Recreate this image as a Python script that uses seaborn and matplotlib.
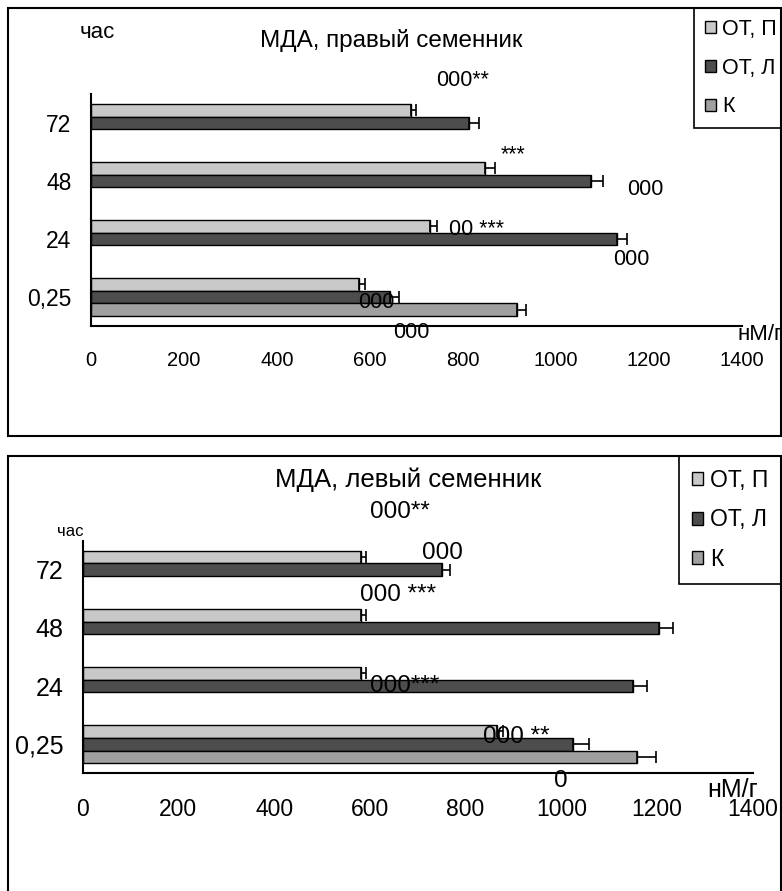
import numpy as np
import pandas as pd
import matplotlib
matplotlib.use("Agg")
import matplotlib.pyplot as plt
from matplotlib.container import BarContainer
from matplotlib.patches import Rectangle
import seaborn as sns

# ---------------------------------------------------------------------------
# data: MDA, nM/g, by hours after exposure
# ---------------------------------------------------------------------------
hours = ["72", "48", "24", "0,25"]
groups = ["ОТ, П", "ОТ, Л", "К"]

# right testis
right_ot_p = [688, 848, 730, 576]
right_ot_p_err = [11, 21, 14, 14]
right_ot_l = [813, 1075, 1132, 644]
right_ot_l_err = [21, 25, 21, 19]
right_k = [np.nan, np.nan, np.nan, 917]
right_k_err = [0, 0, 0, 19]

# left testis
left_ot_p = [581, 581, 581, 866]
left_ot_p_err = [12, 12, 12, 12]
left_ot_l = [750, 1205, 1150, 1025]
left_ot_l_err = [17, 28, 30, 33]
left_k = [np.nan, np.nan, np.nan, 1159]
left_k_err = [0, 0, 0, 38]

# significance marks: (text, x in nM/g, y in category units)
right_marks = [("000**", 798, -0.74), ("***", 907, 0.55), ("000", 1191, 1.15),
               ("00 ***", 828, 1.83), ("000", 1161, 2.36), ("000", 613, 3.10),
               ("000", 688, 3.62)]
left_marks = [("000**", 663, -1.0), ("000", 751, -0.29), ("000 ***", 659, 0.43),
              ("000***", 672, 2.0), ("000 **", 906, 2.88), ("0", 998, 3.63)]

colors = ["#C8C8C8", "#4D4D4D", "#A0A0A0"]
W, H = 782, 891


def make_frame(p, l, k):
    rows = []
    for vals, g in zip([p, l, k], groups):
        for h, v in zip(hours, vals):
            rows.append({"hour": h, "group": g, "value": v})
    return pd.DataFrame(rows)


def fx(px):
    return px / W


def fy(py):
    return 1 - py / H


def draw_panel(fig, rect, df, errs, marks, fs, yfs, mfs, leg_box, leg_fs,
               leg_space, leg_pad):
    ax = fig.add_axes(rect)
    sns.barplot(data=df, y="hour", x="value", hue="group", order=hours,
                hue_order=groups, palette=colors, saturation=1, orient="h",
                width=0.66, edgecolor="black", linewidth=1.0, errorbar=None,
                ax=ax)

    # one-sided error bars at the bar ends
    bars = [b for c in list(ax.containers) if isinstance(c, BarContainer)
            for b in c]
    for bar in bars:
        if not np.isfinite(bar.get_width()):
            continue
        yc = bar.get_y() + bar.get_height() / 2
        i = int(round(yc))
        slot = int(round((yc - i) / 0.22)) + 1
        e = errs[slot][i]
        if e > 0:
            ax.errorbar(bar.get_width(), yc, xerr=[[0], [e]], fmt="none",
                        ecolor="black", elinewidth=1.2, capsize=4.5,
                        capthick=1.2, zorder=5)

    for txt, x, y in marks:
        ax.text(x, y, txt, fontsize=mfs, ha="center", va="center",
                clip_on=False)

    ax.set_xlim(0, 1400)
    ax.set_ylim(3.5, -0.5)
    ax.set_xticks(range(0, 1401, 200))
    ax.set_yticks(range(len(hours)))
    ax.set_yticklabels(hours)
    ax.set_yticks([-0.5, 0.5, 1.5, 2.5, 3.5], minor=True)
    ax.set_xlabel("")
    ax.set_ylabel("")
    ax.tick_params(axis="x", labelsize=fs, length=5, width=1.2, pad=13)
    ax.tick_params(axis="y", which="major", labelsize=yfs, length=0, pad=14)
    ax.tick_params(axis="y", which="minor", length=5, width=1.2)
    sns.despine(ax=ax)
    for s in ["left", "bottom"]:
        ax.spines[s].set_linewidth(1.5)
        ax.spines[s].set_color("black")

    sns.move_legend(ax, "upper left", bbox_to_anchor=leg_box, mode="expand",
                    bbox_transform=fig.transFigure, title=None, frameon=True,
                    fancybox=False, edgecolor="black", framealpha=1,
                    fontsize=leg_fs, handlelength=0.5, handleheight=0.5,
                    handletextpad=0.3, labelspacing=leg_space,
                    borderpad=leg_pad, borderaxespad=0)
    leg = ax.get_legend()
    leg.get_frame().set_linewidth(1.2)
    for h in leg.legend_handles:
        h.set_edgecolor("black")
        h.set_linewidth(1.0)
    return ax


sns.set_style("white")
plt.rcParams["font.family"] = ["Liberation Sans", "DejaVu Sans"]
plt.rcParams["text.color"] = "black"
plt.rcParams["xtick.color"] = "black"
plt.rcParams["ytick.color"] = "black"
plt.rcParams["axes.labelcolor"] = "black"

fig = plt.figure(figsize=(W / 100, H / 100), dpi=100)

# ---- top: right testis ----
df_r = make_frame(right_ot_p, right_ot_l, right_k)
ax1 = draw_panel(fig, [fx(91), fy(326), fx(742) - fx(91), fy(94) - fy(326)],
                 df_r, [right_ot_p_err, right_ot_l_err, right_k_err],
                 right_marks, 14.5, 16.5, 15.5,
                 (fx(694), fy(124), fx(790) - fx(694), fy(8) - fy(124)),
                 15.5, 0.83, 0.5)
ax1.text(1391, 3.655, "нМ/г", fontsize=16, ha="left", va="center",
         clip_on=False)
fig.text(fx(391), fy(40), "МДА, правый семенник", fontsize=17.5,
         ha="center", va="center")
fig.text(fx(97), fy(33), "час", fontsize=16, ha="center", va="center")

# ---- bottom: left testis ----
df_l = make_frame(left_ot_p, left_ot_l, left_k)
ax2 = draw_panel(fig, [fx(82.7), fy(773.3), fx(752.7) - fx(82.7),
                       fy(540.7) - fy(773.3)],
                 df_l, [left_ot_p_err, left_ot_l_err, left_k_err],
                 left_marks, 16.5, 18, 17.5,
                 (fx(679), fy(582), fx(790) - fx(679), fy(456) - fy(582)),
                 16.5, 0.73, 0.55)
ax2.text(1304, 3.79, "нМ/г", fontsize=18, ha="left", va="center",
         clip_on=False)
fig.text(fx(408), fy(480), "МДА, левый семенник", fontsize=18.5,
         ha="center", va="center")
fig.text(fx(70), fy(531), "час", fontsize=12, ha="center", va="center")

# chart frames
fig.add_artist(Rectangle((fx(8), fy(436)), fx(781) - fx(8), fy(8) - fy(436),
                         transform=fig.transFigure, fill=False,
                         edgecolor="black", linewidth=1.5))
fig.add_artist(Rectangle((fx(8), -0.02), fx(781) - fx(8), fy(456) + 0.02,
                         transform=fig.transFigure, fill=False,
                         edgecolor="black", linewidth=1.5))

fig.savefig("out.png", dpi=100)
